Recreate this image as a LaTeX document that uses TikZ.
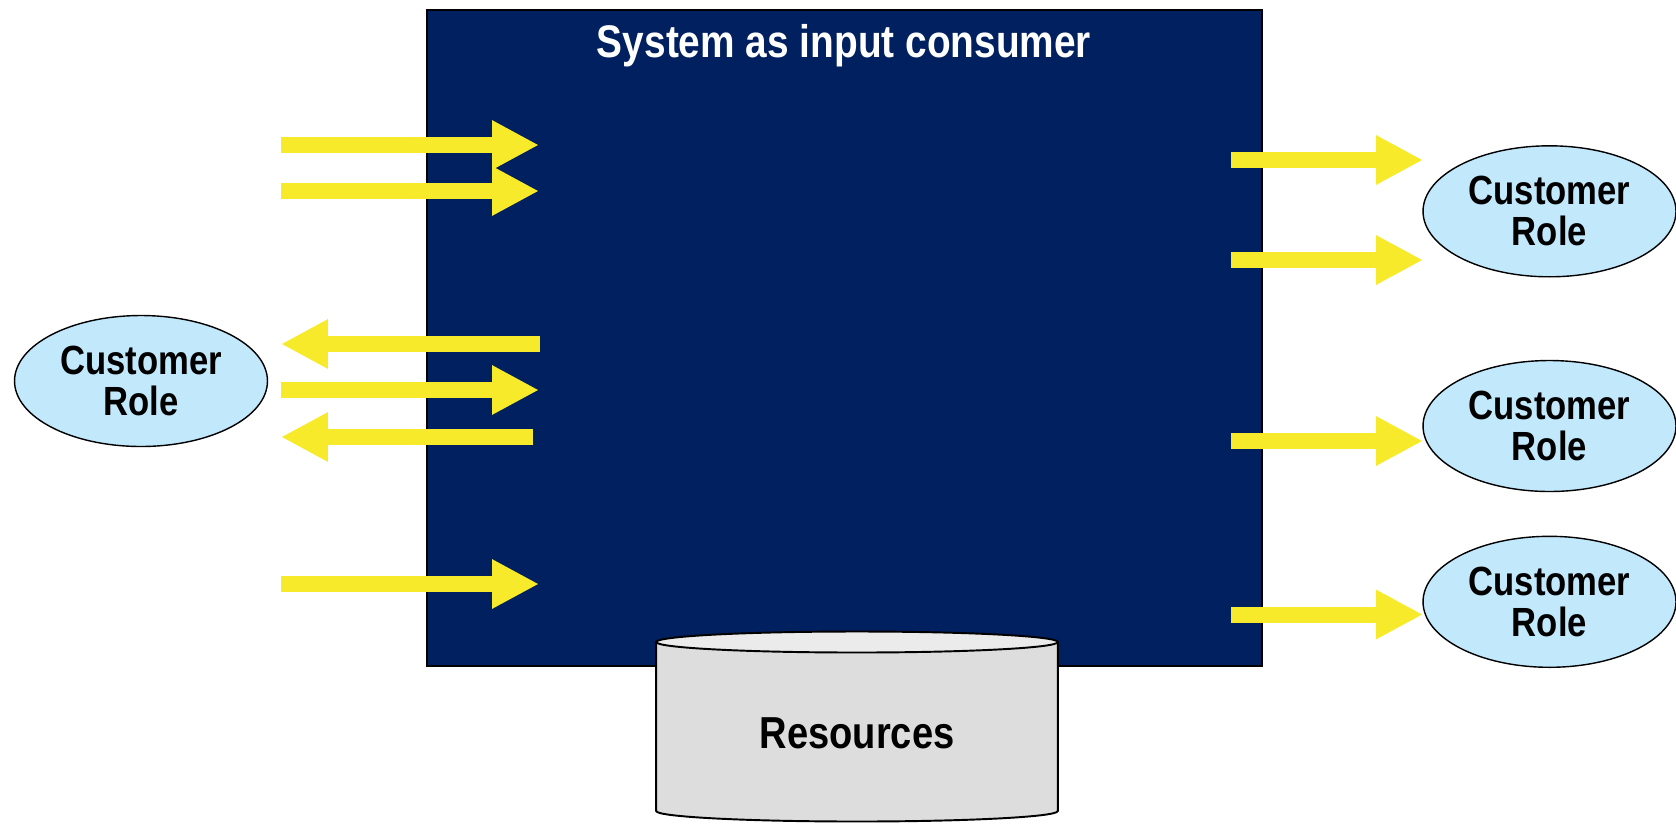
\documentclass[tikz,border=0pt]{standalone}
\usepackage{fontspec}
\setmainfont[FakeStretch=0.85]{Liberation Sans}
\usetikzlibrary{arrows.meta}
\usetikzlibrary{shapes.geometric}

\definecolor{sysblue}{RGB}{0,32,96}
\definecolor{flowyellow}{RGB}{247,234,43}
\definecolor{roleblue}{RGB}{194,232,252}
\definecolor{cylgray}{RGB}{221,221,221}
\definecolor{cyltop}{RGB}{235,235,235}

\tikzset{
 flow/.style={flowyellow, line width=9.1pt, -{Triangle[width=26.2pt,length=26.7pt]}},
 role/.style={ellipse, draw=black, line width=0.8pt, fill=roleblue, minimum width=5.06cm, minimum height=2.62cm, inner sep=0pt, align=center, font=\fontsize{23.2}{23.5}\selectfont\bfseries},
}

\begin{document}
\begin{tikzpicture}[x=0.02cm, y=-0.02cm]
\useasboundingbox (0,0) rectangle (1676,826);
\node[draw=black, line width=1.1pt, fill=sysblue, minimum width=16.71cm, minimum height=13.13cm, inner sep=0pt] (sys) at (844.3,337.8) {};
\node[anchor=base, text=white, font=\fontsize{26}{30}\selectfont\bfseries] (title) at (844,57) {System as input consumer};

% customer roles
\node[role] (cl) at (141,381) {Customer\\Role};
\node[role] (cr1) at (1549.5,211.3) {Customer\\Role};
\node[role] (cr2) at (1549.5,426) {Customer\\Role};
\node[role] (cr3) at (1549.5,601.8) {Customer\\Role};

% inputs
\foreach \y [count=\i] in {145,191,390,584} {
 \coordinate (in\i) at (281,\y);
 \coordinate (inend\i) at (539,\y);
 \draw[flow] (in\i) -- (inend\i);
}
\foreach \y/\x [count=\i] in {344/540,437/533} {
 \coordinate (back\i) at (\x,\y);
 \coordinate (backend\i) at (281,\y);
 \draw[flow] (back\i) -- (backend\i);
}
% outputs
\foreach \y [count=\i] in {160,260,441,614.5} {
 \coordinate (out\i) at (1231,\y);
 \coordinate (outend\i) at (1423,\y);
 \draw[flow] (out\i) -- (outend\i);
}

% resources
\path[draw=black, line width=1.1pt, fill=cylgray] (656.2,642) -- (656.2,811) arc[start angle=180, end angle=0, x radius=200.8, y radius=10.5] -- (1057.8,642) -- cycle;
\draw[line width=1.1pt, fill=cyltop] (857,642) ellipse[x radius=200.8, y radius=10.5];
\node[anchor=base, font=\fontsize{25.5}{30}\selectfont\bfseries] (res) at (857,748.3) {Resources};
\end{tikzpicture}
\end{document}
